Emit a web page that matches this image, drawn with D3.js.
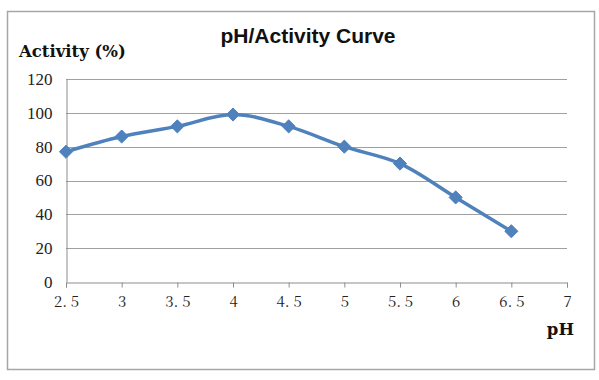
<!DOCTYPE html>
<html>
<head>
<meta charset="utf-8">
<script src="https://cdn.jsdelivr.net/npm/d3@7"></script>
<style>
  html, body { margin: 0; padding: 0; background: #fff; }
</style>
</head>
<body>
<svg id="chart"></svg>
<script>
// data
const phValues = [2.5, 3, 3.5, 4, 4.5, 5, 5.5, 6, 6.5];
const activity = [77, 86, 92, 99, 92, 80, 70, 50, 30];
const xTicks = [2.5, 3, 3.5, 4, 4.5, 5, 5.5, 6, 6.5, 7];
const yTicks = [0, 20, 40, 60, 80, 100, 120];

const width = 599, height = 380;
const marginLeft = 66, marginRight = 32, marginTop = 79, marginBottom = 98;

const svg = d3.select("#chart")
  .attr("width", width)
  .attr("height", height);

// outer frame
svg.append("rect")
  .attr("x", 7.5).attr("y", 11.5)
  .attr("width", 587).attr("height", 358)
  .attr("fill", "none")
  .attr("stroke", "#a6a6a6")
  .attr("stroke-width", 1.5);

const x = d3.scaleLinear()
  .domain([2.5, 7])
  .range([marginLeft, width - marginRight]);

const y = d3.scaleLinear()
  .domain([0, 120])
  .range([height - marginBottom, marginTop]);

// gridlines
svg.append("g")
  .selectAll("line")
  .data(yTicks.filter(d => d > 0))
  .join("line")
  .attr("x1", x(2.5)).attr("x2", x(7))
  .attr("y1", d => Math.round(y(d)) + 0.5)
  .attr("y2", d => Math.round(y(d)) + 0.5)
  .attr("stroke", "#a0a0a0")
  .attr("stroke-width", 1);

// x axis
svg.append("g")
  .attr("transform", `translate(0,${Math.round(y(0)) + 0.5})`)
  .call(d3.axisBottom(x).tickValues(xTicks).tickSize(5).tickPadding(9)
    .tickFormat(d => d % 1 === 0 ? String(d) : d3.format(".1f")(d).replace(".", ". ")))
  .call(g => g.select(".domain").attr("stroke", "#8c8c8c"))
  .call(g => g.selectAll(".tick line").attr("stroke", "#8c8c8c"))
  .call(g => g.selectAll("text")
    .attr("font-family", "'Noto Serif CJK SC', 'DejaVu Serif', serif")
    .attr("font-size", 15)
    .attr("fill", "#222"));

// y axis
svg.append("g")
  .attr("transform", `translate(${x(2.5) + 0.5},0)`)
  .call(d3.axisLeft(y).tickValues(yTicks).tickSize(0).tickPadding(14))
  .call(g => g.select(".domain").attr("stroke", "#8c8c8c"))
  .call(g => g.selectAll("text")
    .attr("font-family", "'Liberation Serif', 'DejaVu Serif', serif")
    .attr("font-size", 17)
    .attr("fill", "#222"));

// curve
const line = d3.line()
  .x((d, i) => x(phValues[i]))
  .y(d => y(d))
  .curve(d3.curveCatmullRom.alpha(0.5));

svg.append("path")
  .datum(activity)
  .attr("fill", "none")
  .attr("stroke", "#4f81bd")
  .attr("stroke-width", 3.5)
  .attr("d", line);

// diamond markers
svg.append("g")
  .selectAll("path")
  .data(activity)
  .join("path")
  .attr("transform", (d, i) => `translate(${x(phValues[i])},${y(d)})`)
  .attr("d", d3.symbol(d3.symbolDiamond2, 110))
  .attr("fill", "#4f81bd")
  .attr("stroke", "#4f81bd")
  .attr("stroke-width", 1);

// titles
svg.append("text")
  .attr("x", 308).attr("y", 43)
  .attr("text-anchor", "middle")
  .attr("font-family", "'Liberation Sans', Arial, sans-serif")
  .attr("font-weight", "bold")
  .attr("font-size", 21)
  .attr("fill", "#111")
  .text("pH/Activity Curve");

svg.append("text")
  .attr("x", 19).attr("y", 57)
  .attr("font-family", "'DejaVu Serif', serif")
  .attr("font-weight", "bold")
  .attr("font-size", 16.5)
  .attr("fill", "#111")
  .text("Activity (%)");

svg.append("text")
  .attr("x", 574).attr("y", 335)
  .attr("text-anchor", "end")
  .attr("font-family", "'DejaVu Serif', serif")
  .attr("font-weight", "bold")
  .attr("font-size", 16.5)
  .attr("fill", "#111")
  .text("pH");
</script>
</body>
</html>
